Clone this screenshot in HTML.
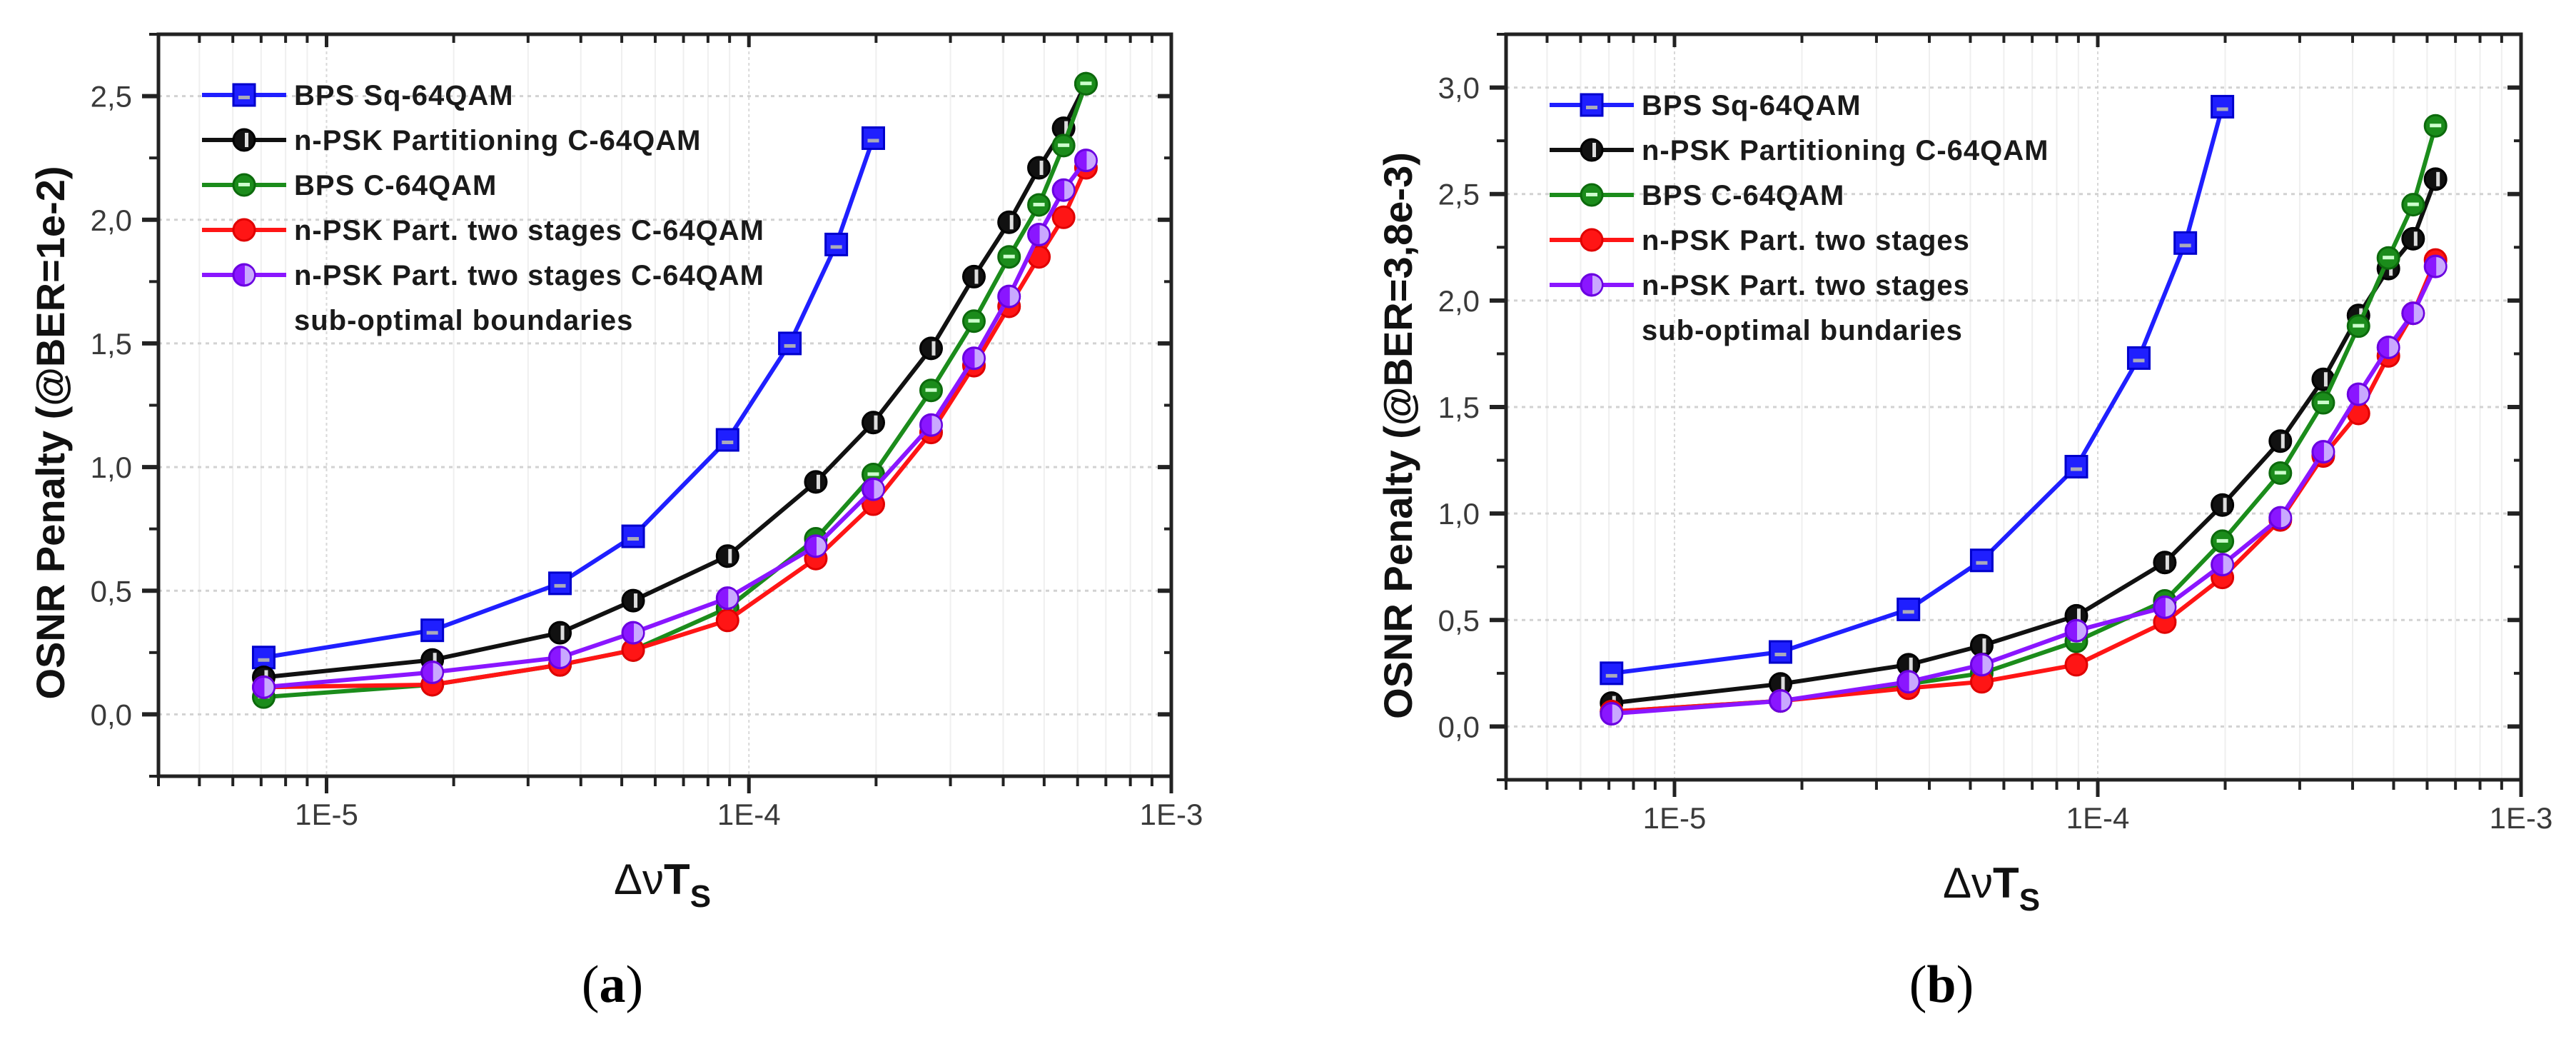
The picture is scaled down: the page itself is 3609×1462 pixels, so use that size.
<!DOCTYPE html>
<html><head><meta charset="utf-8">
<style>
html,body{margin:0;padding:0;background:#fff;}
svg{display:block;}
</style></head>
<body>
<svg id="fig" width="3609" height="1462" viewBox="0 0 3609 1462" xmlns="http://www.w3.org/2000/svg" font-family="Liberation Sans, Arial, sans-serif">
<rect width="3609" height="1462" fill="#fff"/>
</svg>
<script>
// ---- shared x categories ----
const xMain = [7.1e-6,1.78e-5,3.57e-5,5.32e-5,8.9e-5,1.44e-4,1.97e-4,2.7e-4,3.41e-4,4.13e-4,4.86e-4,5.56e-4,6.28e-4];
const xBlue = [7.1e-6,1.78e-5,3.57e-5,5.32e-5,8.9e-5,1.25e-4,1.61e-4,1.97e-4];
const xTickLabels = ["1E-5","1E-4","1E-3"];
const xTickValues = [1e-5,1e-4,1e-3];
// ---- panel (a) ----
const aBlue   = [0.23,0.34,0.53,0.72,1.11,1.50,1.90,2.33];
const aBlack  = [0.15,0.22,0.33,0.46,0.64,0.94,1.18,1.48,1.77,1.99,2.21,2.37,2.55];
const aGreen  = [0.07,0.12,0.20,0.26,0.43,0.71,0.97,1.31,1.59,1.85,2.06,2.30,2.55];
const aRed    = [0.11,0.12,0.20,0.26,0.38,0.63,0.85,1.14,1.41,1.65,1.85,2.01,2.21];
const aPurple = [0.11,0.17,0.23,0.33,0.47,0.68,0.91,1.17,1.44,1.69,1.94,2.12,2.24];
const aYTicks = ["0,0","0,5","1,0","1,5","2,0","2,5"];
const aYTickValues = [0,0.5,1,1.5,2,2.5];
const aLegend = ["BPS Sq-64QAM","n-PSK Partitioning C-64QAM","BPS C-64QAM","n-PSK Part. two stages C-64QAM","n-PSK Part. two stages C-64QAM"];
// ---- panel (b) ----
const bBlue   = [0.25,0.35,0.55,0.78,1.22,1.73,2.27,2.91];
const bBlack  = [0.11,0.20,0.29,0.38,0.52,0.77,1.04,1.34,1.63,1.93,2.15,2.29,2.57];
const bGreen  = [0.07,0.12,0.20,0.25,0.40,0.59,0.87,1.19,1.52,1.88,2.20,2.45,2.82];
const bRed    = [0.07,0.12,0.18,0.21,0.29,0.49,0.70,0.97,1.27,1.47,1.74,1.94,2.19];
const bPurple = [0.06,0.12,0.21,0.29,0.45,0.56,0.76,0.98,1.29,1.56,1.78,1.94,2.16];
const bYTicks = ["0,0","0,5","1,0","1,5","2,0","2,5","3,0"];
const bYTickValues = [0,0.5,1,1.5,2,2.5,3];
const bLegend = ["BPS Sq-64QAM","n-PSK Partitioning C-64QAM","BPS C-64QAM","n-PSK Part. two stages","n-PSK Part. two stages"];

const NS="http://www.w3.org/2000/svg";
const svg=document.getElementById('fig');
function mk(tag,attrs,parent){const e=document.createElementNS(NS,tag);for(const k in attrs)e.setAttribute(k,attrs[k]);(parent||svg).appendChild(e);return e;}

const COLORS={blue:"#1f1fff",black:"#111111",green:"#1b8c1b",red:"#ff1515",purple:"#8a16ff"};
const DARK={blue:"#0000cc",black:"#000000",green:"#0c6a0c",red:"#e00000",purple:"#6a00e0"};

function marker(g,kind,cx,cy){
  const c=COLORS[kind],d=DARK[kind];
  if(kind==='blue'){
    const m=mk('rect',{x:cx-15,y:cy-15,width:30,height:30,fill:c,stroke:d,'stroke-width':3},g);
    
    
    mk('rect',{x:cx-8,y:cy+1,width:16,height:5,fill:'#aab'},g);
  }else{
    const m=mk('circle',{cx:cx,cy:cy,r:15,fill:c,stroke:d,'stroke-width':3},g);
    
    
    if(kind==='black') mk('rect',{x:cx+1,y:cy-10,width:5,height:20,fill:'#ddd'},g);
    if(kind==='green') mk('rect',{x:cx-8,y:cy-3,width:16,height:5,fill:'#cfc'},g);
    if(kind==='purple') mk('path',{d:`M${cx+1},${cy-13} A13,13 0 0,1 ${cx+1},${cy+13} Z`,fill:'#c9a8ff'},g);
  }
}

function panel(P){
  const g=mk('g',{});
  
  
  const lx0=Math.log10(4e-6),lx1=Math.log10(1e-3);
  const X=v=>P.L+(Math.log10(v)-lx0)/(lx1-lx0)*(P.R-P.L);
  const Y=v=>P.B-(v-P.ymin)/(P.ymax-P.ymin)*(P.B-P.T);
  const grid=mk('g',{},g);
  
  
  for(let e=-6;e<=-4;e++)for(let m=1;m<10;m++){
    const v=m*Math.pow(10,e); if(v<4e-6||v>1e-3)continue;
    const x=X(v);
    mk('line',{x1:x,y1:P.T,x2:x,y2:P.B,stroke:m===1?'#d8d8d8':'#efefef','stroke-width':2,'stroke-dasharray':m===1?'4,4':''},grid);
  }
  P.yv.forEach(v=>{const y=Y(v);mk('line',{x1:P.L,y1:y,x2:P.R,y2:y,stroke:'#d2d2d2','stroke-width':3,'stroke-dasharray':'5,6'},grid);});
  const box=mk('rect',{x:P.L,y:P.T,width:P.R-P.L,height:P.B-P.T,fill:'none',stroke:'#222','stroke-width':5},g);
  
  
  for(let v=P.ymin;v<=P.ymax+1e-9;v+=0.25){
    const y=Y(v);const maj=Math.abs(v*2-Math.round(v*2))<1e-6;
    mk('line',{x1:P.L-(maj?23:13),y1:y,x2:P.L,y2:y,stroke:'#222','stroke-width':maj?6:4},g);
    mk('line',{x1:P.R-(maj?19:10),y1:y,x2:P.R,y2:y,stroke:'#222','stroke-width':maj?6:4},g);
  }
  P.yv.forEach((v,i)=>{
    const t=mk('text',{x:P.L-37,y:Y(v)+15,'text-anchor':'end','font-size':42,fill:'#3a3a3a'},g);
    t.textContent=P.yl[i];
    
    
  });
  for(let e=-6;e<=-3;e++)for(let m=1;m<10;m++){
    const v=m*Math.pow(10,e); if(v<4e-6-1e-12||v>1e-3+1e-12)continue;
    const x=X(v);const maj=m===1;
    mk('line',{x1:x,y1:P.B,x2:x,y2:P.B+(maj?24:14),stroke:'#222','stroke-width':maj?5:4},g);
    mk('line',{x1:x,y1:P.T,x2:x,y2:P.T+(maj?18:12),stroke:'#222','stroke-width':maj?5:4},g);
  }
  xTickValues.forEach((v,i)=>{
    const t=mk('text',{x:X(v),y:P.B+68,'text-anchor':'middle','font-size':42,fill:'#3a3a3a'},g);
    t.textContent=xTickLabels[i];
    
    
  });
  const yt=mk('text',{x:0,y:0,'text-anchor':'middle','font-size':56,'font-weight':'bold',fill:'#111',transform:`translate(${P.L-132},${P.ytc}) rotate(-90)`},g);
  yt.textContent=P.ytitle;
  
  
  const xt=mk('text',{x:P.xtc,y:P.B+165,'text-anchor':'middle','font-size':60,fill:'#111'},g);
  
  
  const s1=mk('tspan',{},xt);s1.textContent='Δν';
  const s2=mk('tspan',{'font-weight':'bold'},xt);s2.textContent='T';
  const s3=mk('tspan',{'font-weight':'bold','font-size':44,dy:18},xt);s3.textContent='S';
  const pl=mk('text',{x:P.xtc-70,y:1403,'text-anchor':'middle','font-size':74,'font-family':'Liberation Serif, serif',fill:'#000'},g);
  
  
  const p1=mk('tspan',{},pl);p1.textContent='(';
  const p2=mk('tspan',{'font-weight':'bold'},pl);p2.textContent=P.label;
  const p3=mk('tspan',{},pl);p3.textContent=')';
  const series=[['blue',xBlue,P.s.blue],['black',xMain,P.s.black],['green',xMain,P.s.green],['red',xMain,P.s.red],['purple',xMain,P.s.purple]];
  series.forEach(([k,xs,ys])=>{
    const sg=mk('g',{},g);
    
    
    const pts=xs.map((x,i)=>X(x).toFixed(1)+','+Y(ys[i]).toFixed(1)).join(' ');
    mk('polyline',{points:pts,fill:'none',stroke:COLORS[k],'stroke-width':6,'stroke-linejoin':'round'},sg);
    xs.forEach((x,i)=>marker(sg,k,X(x),Y(ys[i])));
  });
  const lg=mk('g',{},g);
  
  
  ['blue','black','green','red','purple'].forEach((k,i)=>{
    const y=P.legY+i*63;
    const eg=mk('g',{},lg);
    
    
    mk('line',{x1:P.L+61,y1:y,x2:P.L+179,y2:y,stroke:COLORS[k],'stroke-width':6},eg);
    marker(eg,k,P.L+120,y);
    const t=mk('text',{x:P.L+190,y:y+14,'font-size':40,'font-weight':'bold',fill:'#1a1a1a','letter-spacing':'1'},eg);
    t.textContent=P.leg[i];
  });
  const t6=mk('text',{x:P.L+190,y:P.legY+5*63+14,'font-size':40,'font-weight':'bold',fill:'#1a1a1a','letter-spacing':'1'},lg);
  t6.textContent=P.leg6;
  
  
}

panel({name:'chart-a',L:222,R:1641,T:48,B:1087,ymin:-0.25,ymax:2.75,yv:aYTickValues,yl:aYTicks,
  ytitle:'OSNR Penalty (@BER=1e-2)',ytc:606,xtc:928,label:'a',legY:133,leg:aLegend,leg6:'sub-optimal boundaries',
  s:{blue:aBlue,black:aBlack,green:aGreen,red:aRed,purple:aPurple}});
panel({name:'chart-b',L:2110,R:3532,T:48,B:1092,ymin:-0.25,ymax:3.25,yv:bYTickValues,yl:bYTicks,
  ytitle:'OSNR Penalty (@BER=3,8e-3)',ytc:610,xtc:2790,label:'b',legY:147,leg:bLegend,leg6:'sub-optimal bundaries',
  s:{blue:bBlue,black:bBlack,green:bGreen,red:bRed,purple:bPurple}});
</script>
</body></html>
